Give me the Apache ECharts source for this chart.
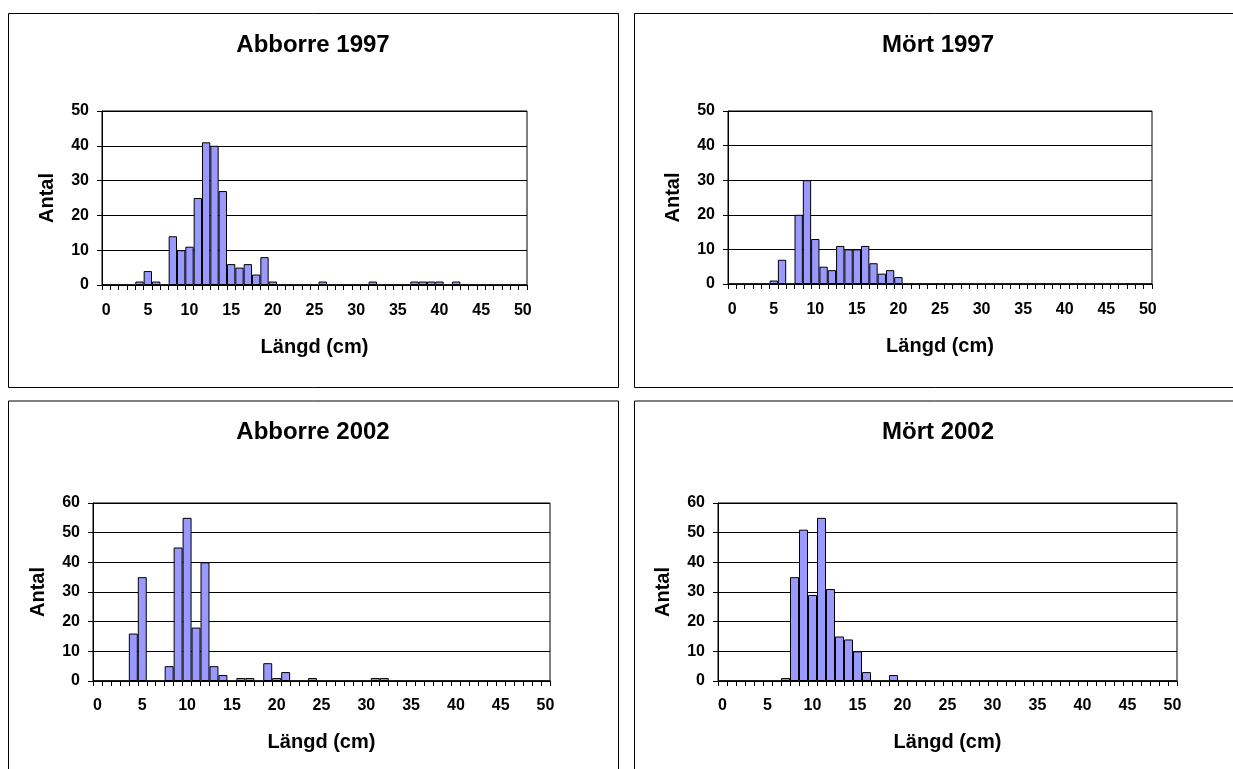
<!DOCTYPE html>
<html>
<head>
<meta charset="utf-8">
<script src="https://cdn.jsdelivr.net/npm/echarts@6/dist/echarts.min.js"></script>
<style>
  html, body { margin: 0; padding: 0; background: #fff; }
  #chart { width: 1233px; height: 769px; }
</style>
</head>
<body>
<div id="chart"></div>
<script>
// Length classes (cm)
const lengths = [0,1,2,3,4,5,6,7,8,9,10,11,12,13,14,15,16,17,18,19,20,21,22,23,24,25,
  26,27,28,29,30,31,32,33,34,35,36,37,38,39,40,41,42,43,44,45,46,47,48,49,50];

// Catch counts per length class
const abborre1997 = [0,0,0,0,1,4,1,0,14,10, 11,25,41,40,27,6,5,6,3,8, 1,0,0,0,0,0,1,0,0,0,
  0,0,1,0,0,0,0,1,1,1, 1,0,1,0,0,0,0,0,0,0, 0];
const mort1997 = [0,0,0,0,0,1,7,0,20,30, 13,5,4,11,10,10,11,6,3,4, 2,0,0,0,0,0,0,0,0,0,
  0,0,0,0,0,0,0,0,0,0, 0,0,0,0,0,0,0,0,0,0, 0];
const abborre2002 = [0,0,0,0,16,35,0,0,5,45, 55,18,40,5,2,0,1,1,0,6, 1,3,0,0,1,0,0,0,0,0,
  0,1,1,0,0,0,0,0,0,0, 0,0,0,0,0,0,0,0,0,0, 0];
const mort2002 = [0,0,0,0,0,0,0,1,35,51, 29,55,31,15,14,10,3,0,0,2, 0,0,0,0,0,0,0,0,0,0,
  0,0,0,0,0,0,0,0,0,0, 0,0,0,0,0,0,0,0,0,0, 0];

const titles = ['Abborre 1997', 'Mört 1997', 'Abborre 2002', 'Mört 2002'];
const yMax = [50, 50, 60, 60];
const xName = 'Längd (cm)';
const yName = 'Antal';

const FONT = '"Liberation Sans", Arial, sans-serif';

// Panel frames and plot areas
const frames = [
  { x: 8.5, y: 13.5, w: 610, h: 374 },
  { x: 634.5, y: 13.5, w: 620, h: 374 },
  { x: 8.5, y: 401, w: 610, h: 400 },
  { x: 634.5, y: 401, w: 620, h: 400 }
];
const grids = [
  { left: 102, top: 111, width: 425, height: 174 },
  { left: 728, top: 111, width: 424, height: 173 },
  { left: 93, top: 503, width: 457, height: 178 },
  { left: 718, top: 503, width: 459, height: 178 }
];
const titlePos = [
  { x: 313, y: 33 }, { x: 938, y: 33 }, { x: 313, y: 420 }, { x: 938, y: 420 }
];
const seriesData = [abborre1997, mort1997, abborre2002, mort2002];

const option = {
  backgroundColor: '#fff',
  animation: false,
  textStyle: { fontFamily: FONT },
  title: titles.map((t, i) => ({
    text: t,
    left: titlePos[i].x,
    top: titlePos[i].y,
    textAlign: 'center',
    padding: 0,
    textStyle: { fontFamily: FONT, fontSize: 24, fontWeight: 'bold', color: '#000' }
  })),
  graphic: frames.map(f => ({
    type: 'rect',
    shape: { x: f.x, y: f.y, width: f.w, height: f.h },
    style: { fill: 'none', stroke: '#000', lineWidth: 1 },
    z: -1
  })),
  grid: grids.map(g => Object.assign({
    show: true, borderColor: '#000', borderWidth: 1, backgroundColor: 'transparent'
  }, g)),
  xAxis: grids.map((g, i) => ({
    type: 'category',
    gridIndex: i,
    data: lengths,
    boundaryGap: true,
    name: xName,
    nameLocation: 'middle',
    nameGap: i < 2 ? 52 : 51,
    nameTextStyle: { fontFamily: FONT, fontSize: 20, fontWeight: 'bold', color: '#000' },
    axisLine: { show: true, lineStyle: { color: '#000', width: 1 } },
    axisTick: { show: true, interval: 0, length: 5, inside: false, lineStyle: { color: '#000' } },
    axisLabel: {
      interval: 4, margin: i < 2 ? 18 : 17,
      fontFamily: FONT, fontSize: 16, fontWeight: 'bold', color: '#000'
    },
    splitLine: { show: false }
  })),
  yAxis: grids.map((g, i) => ({
    type: 'value',
    gridIndex: i,
    min: 0,
    max: yMax[i],
    interval: 10,
    name: yName,
    nameLocation: 'middle',
    nameGap: 45,
    nameTextStyle: { fontFamily: FONT, fontSize: 20, fontWeight: 'bold', color: '#000' },
    axisLine: { show: true, lineStyle: { color: '#000', width: 1 } },
    axisTick: { show: true, length: 5, inside: false, lineStyle: { color: '#000' } },
    axisLabel: { margin: 13, fontFamily: FONT, fontSize: 16, fontWeight: 'bold', color: '#000' },
    splitLine: { show: true, lineStyle: { color: '#000', width: 1 } }
  })),
  series: seriesData.map((d, i) => ({
    type: 'bar',
    xAxisIndex: i,
    yAxisIndex: i,
    data: d,
    barCategoryGap: '0%',
    itemStyle: { color: '#9999FF', borderColor: '#000', borderWidth: 1 }
  }))
};

const chart = echarts.init(document.getElementById('chart'), null, { renderer: 'canvas' });
chart.setOption(option);
</script>
</body>
</html>
